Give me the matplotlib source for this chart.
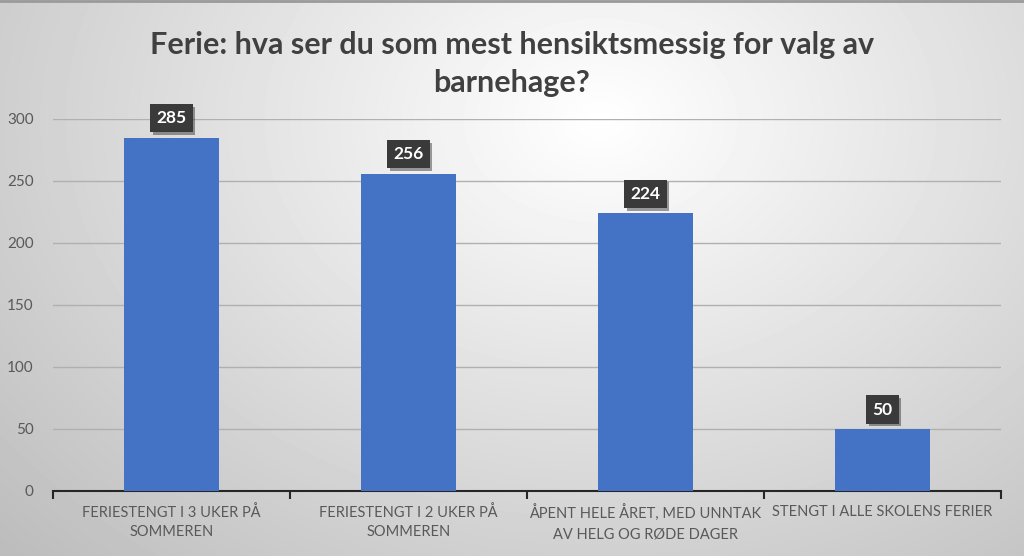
import numpy as np
import matplotlib.pyplot as plt
import matplotlib.patheffects as pe

plt.rcParams['font.family'] = ['Lato', 'DejaVu Sans']

title = 'Ferie: hva ser du som mest hensiktsmessig for valg av\nbarnehage?'
categories = ['FERIESTENGT I 3 UKER PÅ\nSOMMEREN',
              'FERIESTENGT I 2 UKER PÅ\nSOMMEREN',
              'ÅPENT HELE ÅRET, MED UNNTAK\nAV HELG OG RØDE DAGER',
              'STENGT I ALLE SKOLENS FERIER']
values = [285, 256, 224, 50]
yticks = [0, 50, 100, 150, 200, 250, 300]

fig = plt.figure(figsize=(10.24, 5.56), dpi=100)

# radial grey background
bg = fig.add_axes([0, 0, 1, 1], zorder=-10)
yy, xx = np.mgrid[0:556, 0:1024]
r = np.sqrt(((xx - 600) / 700.0) ** 2 + ((yy - 120) / 520.0) ** 2)
shade = np.clip(1.0 - 0.22 * r, 0.74, 1.0)
bg.imshow(shade, cmap='gray', vmin=0, vmax=1, aspect='auto', extent=[0, 1, 0, 1])
bg.axhline(0.998, color='#9a9a9a', lw=2)
bg.set_axis_off()

ax = fig.add_axes([53 / 1024, 1 - 491 / 556, 948 / 1024, 372 / 556])
ax.patch.set_alpha(0)
x = np.arange(len(categories))
bars = ax.bar(x, values, width=0.4, color='#4472c4', zorder=3)

ax.set_xlim(-0.5, len(categories) - 0.5)
ax.set_ylim(0, 300)
ax.set_yticks(yticks)
ax.yaxis.grid(True, color='#b0b0b0', lw=1)
ax.set_axisbelow(True)
for s in ['top', 'right', 'left']:
    ax.spines[s].set_visible(False)
ax.spines['bottom'].set_color('#262626')
ax.spines['bottom'].set_linewidth(1.5)
ax.tick_params(axis='y', length=0, labelsize=11, labelcolor='#595959', pad=14)

ax.set_xticks(x)
ax.set_xticklabels(categories, fontsize=10.5, color='#595959', linespacing=1.5)
ax.tick_params(axis='x', length=0, pad=10)
ax.set_xticks(np.arange(-0.5, len(categories)), minor=True)
ax.tick_params(axis='x', which='minor', length=6, width=1.5, color='#262626', direction='out')

for b, v in zip(bars, values):
    ax.annotate(str(v), (b.get_x() + b.get_width() / 2, v), xytext=(0, 14),
                textcoords='offset points', ha='center', va='center',
                color='white', fontsize=12.5, fontweight='bold', zorder=5,
                bbox=dict(boxstyle='square,pad=0.35', fc='#3a3a3a', ec='none',
                          path_effects=[pe.withSimplePatchShadow(offset=(2, -2), alpha=0.4)]))

fig.text(0.5, 0.885, title, ha='center', va='center', fontsize=22,
         fontweight='bold', color='#404040', linespacing=1.45)

fig.savefig('out.png', dpi=100)
